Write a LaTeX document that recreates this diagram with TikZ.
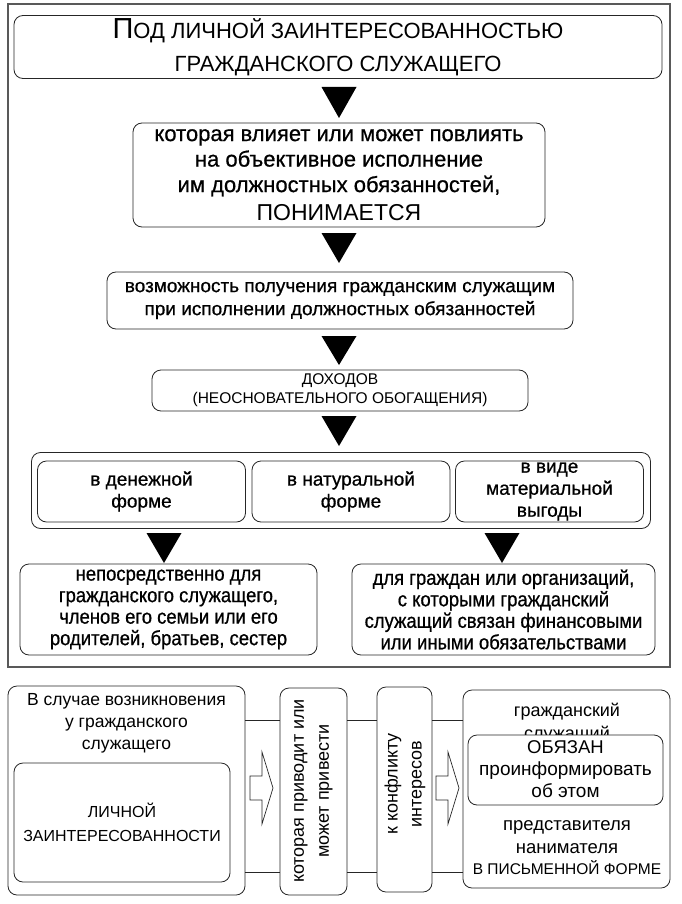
\documentclass[tikz,border=0pt]{standalone}
\usepackage{fontspec}
\setmainfont{Liberation Sans}
\newfontfamily\med[FakeBold=0.7]{Liberation Sans}
\newfontfamily\narmed[FakeStretch=0.9,FakeBold=0.7]{Liberation Sans}
\usetikzlibrary{calc}
\newcommand{\fs}[2]{\fontsize{#1}{#2}\selectfont}
\begin{document}
\begin{tikzpicture}[x=1pt,y=-1pt,
  box/.style={draw=black!85, line width=0.8pt, rounded corners=9pt, align=center, inner sep=0pt, fill=white},
  frame/.style={draw=black!65, line width=1.4pt},
  tri/.style={fill=black},
  harrow/.style={draw=black!85, line width=0.7pt, fill=white},
  link/.style={draw=black!85, line width=0.7pt},
  txt/.style={inner sep=0pt, align=center}]
\path[use as bounding box] (0,0) rectangle (681,904);
\draw[frame] (8,4) rectangle (670,667);

% top flow
\node[box, minimum width=648pt, minimum height=63pt, font={\fs{22}{33}}] (top) at (338,47)
  {{\fs{29}{33}П}ОД ЛИЧНОЙ ЗАИНТЕРЕСОВАННОСТЬЮ\\ ГРАЖДАНСКОГО СЛУЖАЩЕГО};
\node[box, minimum width=412pt, minimum height=104pt, font={\med\fs{22}{25.5}}] (b2) at (339,175)
  {которая влияет или может повлиять\\ на объективное исполнение\\ им должностных обязанностей,\\[3pt] {\normalfont\fs{23}{26}ПОНИМАЕТСЯ}};
\node[box, minimum width=466pt, minimum height=57pt, font={\med\fs{19}{23}}] (b3) at (340,300.5)
  {возможность получения гражданским служащим\\ при исполнении должностных обязанностей};
\node[box, minimum width=376pt, minimum height=41pt, font={\fs{15.5}{19}}] (b4) at (340,390.5)
  {ДОХОДОВ\\ (НЕОСНОВАТЕЛЬНОГО ОБОГАЩЕНИЯ)};
\node[box, minimum width=619pt, minimum height=76pt] (cont) at (341,490.5) {};
\node[box, minimum width=208pt, minimum height=61pt, font={\med\fs{19}{22}}] (s1) at (141.5,491.5)
  {в денежной\\ форме};
\node[box, minimum width=198pt, minimum height=61pt, font={\med\fs{19}{22}}] (s2) at (351,491.5)
  {в натуральной\\ форме};
\node[box, minimum width=188pt, minimum height=61pt, font={\med\fs{19}{22}}] (s3) at (549.5,491.5)
  {в виде\\ материальной\\ выгоды};
\node[box, minimum width=297pt, minimum height=91pt, font={\narmed\fs{20.5}{21.5}}] (bl) at (168.5,609.5)
  {непосредственно для\\ гражданского служащего,\\ членов его семьи или его\\ родителей, братьев, сестер};
\node[box, minimum width=303pt, minimum height=91pt, font={\narmed\fs{20.5}{21.5}}] (br) at (503.5,609.5)
  {для граждан или организаций,\\ с которыми гражданский\\ служащий связан финансовыми\\ или иными обязательствами};

\fill[tri] (321.5,87) -- (356.5,87) -- (339,118) -- cycle;
\fill[tri] (321.5,233) -- (356.5,233) -- (339,263) -- cycle;
\fill[tri] (321.5,336) -- (356.5,336) -- (339,365) -- cycle;
\fill[tri] (321.5,416) -- (356.5,416) -- (339,446) -- cycle;
\fill[tri] (146.5,533) -- (181.5,533) -- (164,563) -- cycle;
\fill[tri] (484.5,533) -- (519.5,533) -- (502,563) -- cycle;

% bottom section
\node[box, minimum width=237pt, minimum height=209pt] (A) at (126.5,790.5) {};
\node[box, minimum width=216pt, minimum height=119pt, font={\fs{16}{24}}] (Ai) at (122,822.5)
  {ЛИЧНОЙ\\ ЗАИНТЕРЕСОВАННОСТИ};
\node[txt, anchor=north, font={\fs{17.5}{22}}] (At) at (126.5,693)
  {В случае возникновения\\ у гражданского\\ служащего};
\node[box, minimum width=67pt, minimum height=207pt] (B) at (313.5,791.5) {};
\node[txt, rotate=90, font={\fs{18}{25}}] (Bt) at (313.5,791) {которая приводит или\\ может привести};
\node[box, minimum width=55pt, minimum height=205pt] (C) at (404.5,789.5) {};
\node[txt, rotate=90, font={\fs{18}{24}}] (Ct) at (405,784) {к конфликту\\ интересов};
\node[box, minimum width=207pt, minimum height=198pt] (D) at (566.5,789) {};
\node[txt, anchor=base, font={\fs{18}{22}}] (d1) at (567,716) {гражданский};
\node[txt, anchor=base, font={\fs{18}{22}}] (d2) at (567,739) {служащий};
\node[box, minimum width=195pt, minimum height=70pt] (Di) at (565.5,770) {};
\node[txt, anchor=base, font={\fs{18.5}{22}}] (d3) at (565.5,753) {ОБЯЗАН};
\node[txt, anchor=base, font={\fs{19}{22}}] (d4) at (565.5,775) {проинформировать};
\node[txt, anchor=base, font={\fs{19}{22}}] (d5) at (565.5,797) {об этом};
\node[txt, anchor=base, font={\fs{18.5}{22}}] (d6) at (567,830) {представителя};
\node[txt, anchor=base, font={\fs{18.5}{22}}] (d7) at (567,853) {нанимателя};
\node[txt, anchor=base, font={\fs{15.5}{22}}] (d8) at (567,874) {В ПИСЬМЕННОЙ ФОРМЕ};

\coordinate (l1) at (0,720);
\coordinate (l2) at (0,872);
\draw[link] (A.east |- l1) -- (B.west |- l1);
\draw[link] (A.east |- l2) -- (B.west |- l2);
\draw[link] (B.east |- l1) -- (C.west |- l1);
\draw[link] (B.east |- l2) -- (C.west |- l2);
\draw[link] (C.east |- l1) -- (D.west |- l1);
\draw[link] (C.east |- l2) -- (D.west |- l2);

\draw[harrow] (250,776) -- (262,776) -- (262,752) -- (273,788) -- (262,824) -- (262,800) -- (250,800) -- cycle;
\draw[harrow] (436,776) -- (448,776) -- (448,752) -- (459,788) -- (448,824) -- (448,800) -- (436,800) -- cycle;
\end{tikzpicture}
\end{document}
